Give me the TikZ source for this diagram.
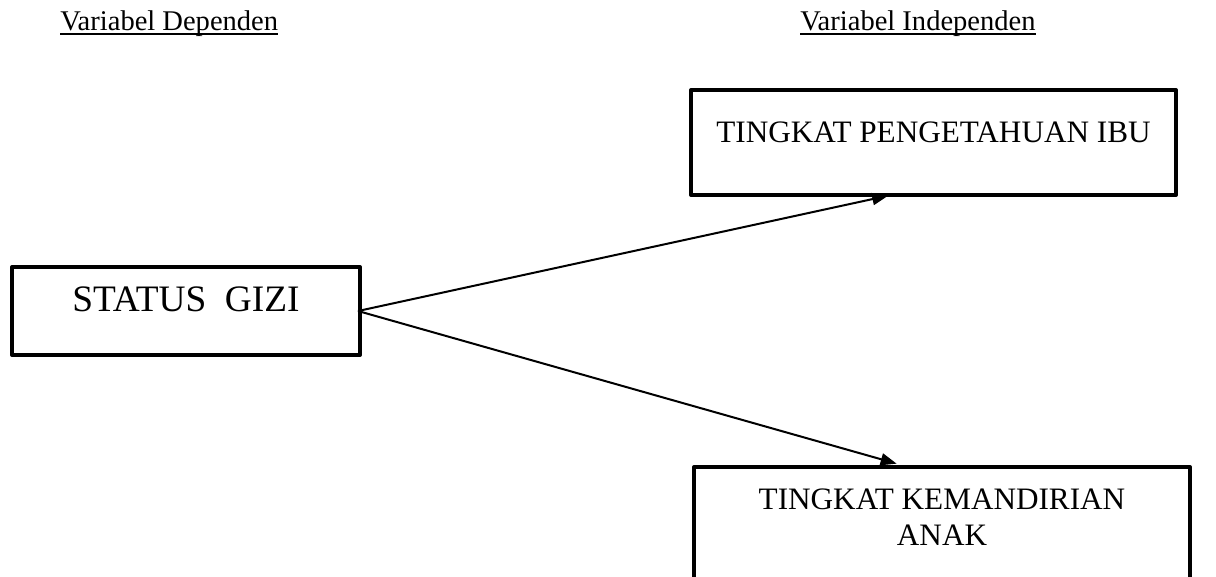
\documentclass[tikz,border=0pt]{standalone}
\usepackage{fontspec}
\setmainfont{Liberation Serif}
\usetikzlibrary{arrows.meta,positioning,calc}

\begin{document}
\begin{tikzpicture}[x=0.75pt, y=-0.75pt,
        varbox/.style={rectangle, draw=black, line width=3pt, line join=round,
        inner sep=0pt, text centered, text=black},
        heading/.style={inner sep=0pt, anchor=base west, font=\fontsize{21.4}{25}\selectfont},
        link/.style={line width=1.5pt, -{Triangle[length=12pt, width=9pt]}}]
    \useasboundingbox (0,0) rectangle (1216,576);
    % headings
    \node [heading] (dep) at (60,30) {Variabel Dependen};
    \node [heading] (indep) at (800,30) {Variabel Independen};
    \draw [line width=1.1pt] ([yshift=-3pt]dep.base west) -- ([yshift=-3pt]dep.base east);
    \draw [line width=1.1pt] ([yshift=-3pt]indep.base west) -- ([yshift=-3pt]indep.base east);
    % variables
    \node [varbox, minimum width=261pt, minimum height=66pt, text height=20pt, text depth=20pt,
        font=\fontsize{28}{32}\selectfont] (gizi) at (186,311) {STATUS\ \ GIZI};
    \node [varbox, minimum width=363.75pt, minimum height=78.75pt, text height=20pt, text depth=20pt,
        font=\fontsize{23.4}{27}\selectfont] (ibu) at (933.5,142.5) {TINGKAT PENGETAHUAN IBU};
    \node [varbox, anchor=north, minimum width=372pt, text height=58.5pt, text depth=43pt,
        align=center, font=\fontsize{23.4}{27}\selectfont] (anak) at (942,465)
        {TINGKAT KEMANDIRIAN\\ANAK};
    % arrows
    \draw [link] ([xshift=-3pt]gizi.east) -- ([xshift=-34pt, yshift=1pt]ibu.south);
    \draw [link] ([xshift=-3pt]gizi.east) -- ([xshift=-34pt, yshift=1pt]anak.north);
\end{tikzpicture}
\end{document}
